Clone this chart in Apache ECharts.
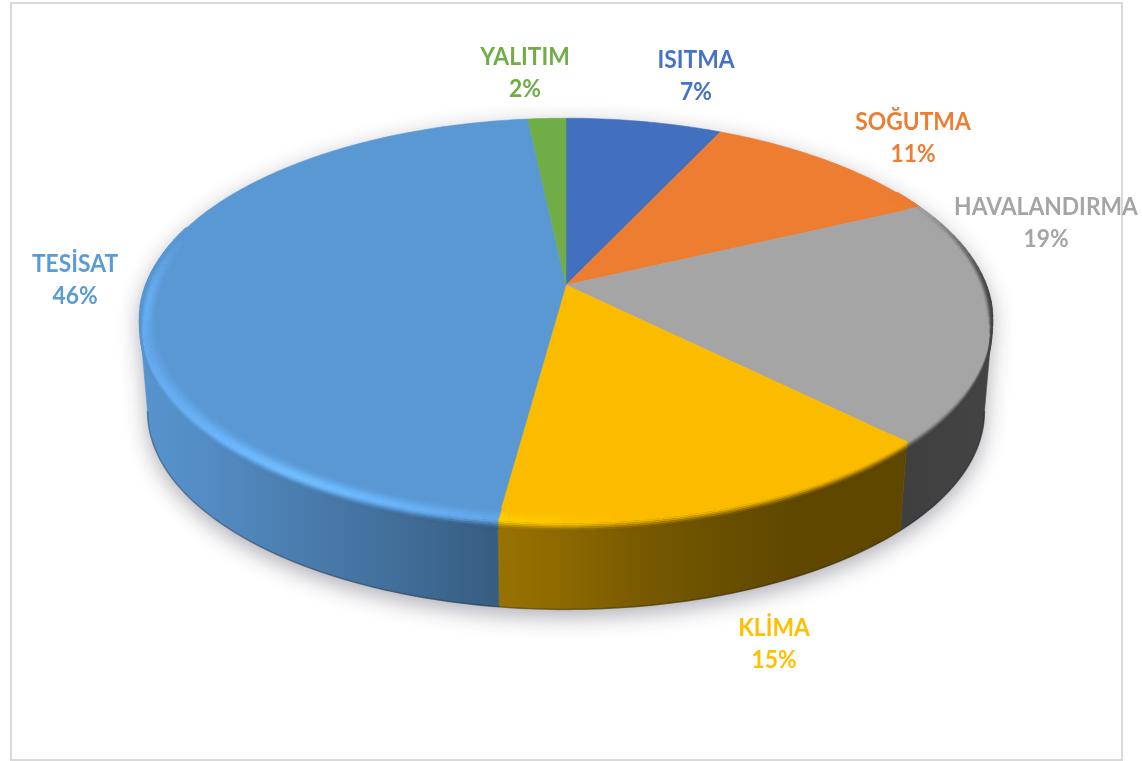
<!DOCTYPE html>
<html><head><meta charset="utf-8">
<style>html,body{margin:0;padding:0;background:#fff}#c{width:1142px;height:761px}</style>
<script src="https://cdn.jsdelivr.net/npm/echarts@6/dist/echarts.min.js"></script>
</head><body><div id="c"></div>
<script>
const categories = ['ISITMA','SOĞUTMA','HAVALANDIRMA','KLİMA','TESİSAT','YALITIM'];
const values = [7,11,19.4,14.75,46.15,1.7];
const colors = ['#4270BF','#ED7D31','#A5A5A5','#FBBC00','#5A98D4','#70AD47'];
const labelColors = ['#4472C4','#ED7D31','#A5A5A5','#FFC000','#5B9BD5','#70AD47'];
const labelCenters = [[696,76],[913,138],[1046,223],[774,644],[75,280],[525,73]];

// perspective of the disc
const P = {cx:566, cy:285, A:420, B:196, k:0.175, A2:412, B2:192, depth:91.7};
const WALL_FROM = 100, WALL_TO = 260;   // silhouette angles of the wall
const total = values.reduce((a,b)=>a+b,0);
const hex = c => [1,3,5].map(i=>parseInt(c.substr(i,2),16));
const mix = (a,b,t)=>a.map((v,i)=>v+(b[i]-v)*t);
const css = a => 'rgb('+a.map(v=>Math.round(v)).join(',')+')';
const sstep = (a,b,x)=>{const t=Math.max(0,Math.min(1,(x-a)/(b-a)));return t*t*(3-2*t);};
function topPt(deg,r){
  const t=deg*Math.PI/180,x=r*Math.sin(t),y=-r*Math.cos(t),w=1-P.k*y;
  return [P.cx+P.A*x/w,P.cy+P.B*y/w];
}
function botPt(deg){
  const t=deg*Math.PI/180,x=Math.sin(t),y=-Math.cos(t),w=1-P.k*y;
  return [P.cx+P.A2*x/w,P.cy+P.depth+P.B2*y/w];
}
function arc(fn,a,b,r){
  const n=Math.max(2,Math.ceil(Math.abs(b-a))),o=[];
  for(let i=0;i<=n;i++)o.push(fn(a+(b-a)*i/n,r));
  return o;
}
const wallStops=[[140,.97],[200,.93],[300,.82],[400,.72],[495,.61],[560,.56],[640,.48],[720,.42],[800,.38],[900,.38],[1000,.41]];
function wallBright(x){
  for(let i=1;i<wallStops.length;i++){
    if(x<=wallStops[i][0]){
      const a=wallStops[i-1],b=wallStops[i],t=Math.max(0,(x-a[0])/(b[0]-a[0]));
      return a[1]+(b[1]-a[1])*t;
    }
  }
  return .41;
}
function wallGradient(base){
  const c=hex(base),x0=140,x1=1000;
  return new echarts.graphic.LinearGradient(x0,0,x1,0,wallStops.map(s=>({
    offset:(s[0]-x0)/(x1-x0),color:css(c.map(v=>v*s[1]))
  })),true);
}
function renderItem(params,api){
  const i=params.dataIndex, v=api.value(0);
  let before=0; for(let j=0;j<i;j++)before+=values[j];
  const a=before/total*360,b=(before+v)/total*360;
  const base=colors[i],c=hex(base),kids=[];
  if(i===0){
    const hull=arc(botPt,WALL_FROM,WALL_TO).concat(arc(topPt,WALL_TO,360+WALL_FROM,1));
    kids.push({type:'polygon',z2:0,shape:{points:hull},
      style:{fill:'#d8d8dc',shadowColor:'rgba(40,40,60,0.38)',shadowBlur:22,shadowOffsetY:7}});
  }
  // wall
  const wa=Math.max(a,WALL_FROM),wb=Math.min(b,WALL_TO);
  if(wb>wa){
    kids.push({type:'polygon',z2:1,shape:{points:arc(topPt,wa,wb,1).concat(arc(botPt,wb,wa))},
      style:{fill:wallGradient(base),stroke:wallGradient(base),lineWidth:.6}});
    kids.push({type:'polyline',z2:2,shape:{points:arc(botPt,wa,wb)},
      style:{fill:'none',stroke:'rgba(0,0,0,0.28)',lineWidth:1.5}});
  }
  // face
  kids.push({type:'polygon',z2:3,shape:{points:[[P.cx,P.cy]].concat(arc(topPt,a,b,1))},
    style:{fill:base,stroke:base,lineWidth:.5}});
  // bevel strips, inner to outer, flowing over the top of the wall at the front
  const strips=14, PEAK=.62, R0=.96;
  for(let s=0;s<strips;s++){
    const t=s/(strips-1);
    for(let d=a;d<b;d+=2){
      const e=Math.min(b,d+2),m=(d+e)/2;
      const w=m>180?sstep(288,264,m):sstep(60,95,m);
      if(w<=0)continue;
      const front=m>180?sstep(WALL_TO+6,WALL_TO-8,m):sstep(WALL_FROM-5,WALL_FROM+8,m);
      const place=(deg)=>{
        const rBack=R0+(1-R0)*t, rFront=t<PEAK?R0+(1-R0)*t/PEAK:1;
        const r=rBack+(rFront-rBack)*front;
        const p=topPt(deg,r),q=botPt(deg),off=front*Math.max(0,(t-PEAK)/(1-PEAK))*.1;
        return [p[0]+(q[0]-p[0])*off,p[1]+(q[1]-p[1])*off];
      };
      const p0=place(d),p1=place(e),x=p0[0];
      const wall=c.map(q=>q*wallBright(x));
      const lightAmt=Math.max(0,1-Math.abs(x-300)/330);
      const hi=c.map(q=>Math.min(255,q*(1+.26*lightAmt)));
      let col;
      if(t<PEAK) col=mix(c,hi,sstep(0,PEAK,t));
      else col=mix(hi,wall,sstep(PEAK,1,t));
      col=mix(c,col,w);
      kids.push({type:'polyline',z2:4,shape:{points:[p0,p1]},
        style:{fill:'none',stroke:css(col),lineWidth:2,lineCap:'round'}});
    }
  }
  // label
  const pct=Math.round(v/total*100)+'%';
  kids.push({type:'text',z2:6,x:labelCenters[i][0],y:labelCenters[i][1],scaleX:.95,
    style:{text:categories[i]+'\n'+pct,fill:labelColors[i],font:'bold 24px Lato',
      align:'center',verticalAlign:'middle',lineHeight:32}});
  return {type:'group',children:kids};
}
const chart=echarts.init(document.getElementById('c'),null,{renderer:'canvas'});
chart.setOption({
  animation:false,
  backgroundColor:'#ffffff',
  graphic:[{type:'rect',silent:true,z:-1,shape:{x:11,y:3,width:1111,height:757},
    style:{fill:'#fff',stroke:'#d9d9d9',lineWidth:2}}],
  series:[{type:'custom',coordinateSystem:'none',silent:true,clip:false,
    renderItem,data:values.map((v,i)=>({name:categories[i],value:[v]}))}]
});
</script></body></html>
